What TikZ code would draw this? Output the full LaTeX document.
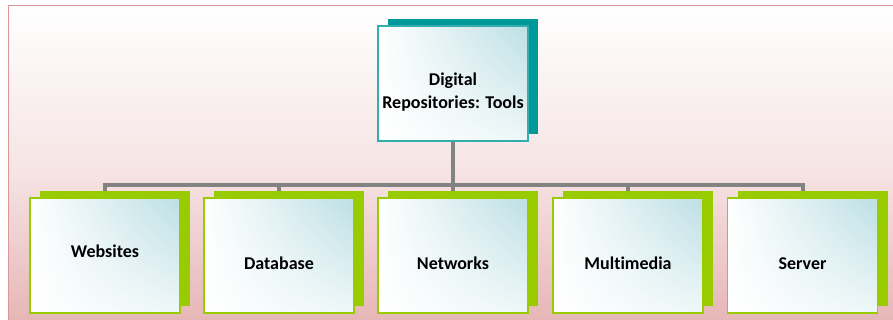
\documentclass[tikz,border=0pt]{standalone}
\usepackage{fontspec}
\setmainfont[Ligatures=NoCommon]{Carlito}
\usetikzlibrary{shadows,shadings}
\definecolor{tealbox}{RGB}{0,153,153}
\definecolor{limebox}{RGB}{153,204,0}
\definecolor{icy}{RGB}{188,223,228}
\definecolor{rosy}{RGB}{229,178,178}
\definecolor{rosyline}{RGB}{220,150,150}
\definecolor{barline}{RGB}{131,131,131}
\pgfdeclarelayer{frame}
\pgfdeclarelayer{links}
\pgfsetlayers{frame,links,main}
\tikzset{
	box/.style={rectangle,minimum width=150pt,minimum height=115pt,inner sep=0pt,align=center,
		font=\fontsize{18}{23}\selectfont\bfseries,line width=1.5pt,
		shade,upper left=white,upper right=icy,lower left=white,lower right=white!75!icy},
	rootbox/.style={box,draw=tealbox!80!white,text height=51pt,text depth=0pt,
		drop shadow={shadow xshift=10pt,shadow yshift=7pt,fill=tealbox,opacity=1}},
	leaf/.style={box,draw=limebox,text height=27pt,text depth=0pt,
		drop shadow={shadow xshift=10pt,shadow yshift=7pt,fill=limebox,opacity=1}},
	link/.style={draw=barline,line width=4pt}
}
\begin{document}
\begin{tikzpicture}[x=1pt,y=-1pt]
	\useasboundingbox (0,0) rectangle (893,320);
	\node[rootbox] (root) at (453,83.5) {Digital\\Repositories: Tools};
	\node[leaf,text height=13pt,text depth=10pt] (web) at (105,255.5) {Websites};
	\node[leaf] (db) at (279,255.5) {Database};
	\node[leaf] (net) at (453,255.5) {Networks};
	\node[leaf] (mm) at (628,255.5) {Multimedia};
	\node[leaf] (srv) at (802.5,255.5) {Server};
	\coordinate (bar) at (0,185);
	\begin{pgfonlayer}{frame}
		\draw[rosyline,top color=white,bottom color=rosy,middle color=rosy!35!white] (8,5) rectangle (910,335);
	\end{pgfonlayer}
	\begin{pgfonlayer}{links}
		\foreach \n in {web,db,net,mm,srv}
			\draw[link] (root.south) -- (root.south |- bar) -| (\n.north);
	\end{pgfonlayer}
\end{tikzpicture}
\end{document}
